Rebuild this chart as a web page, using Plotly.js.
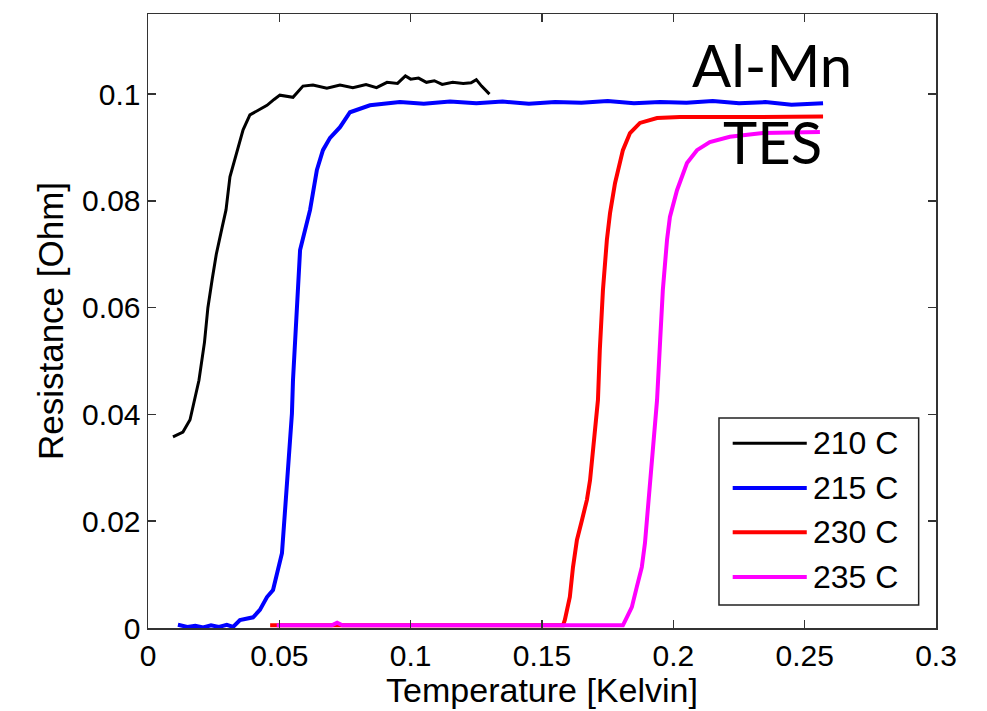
<!DOCTYPE html>
<html>
<head>
<meta charset="utf-8">
<script src="https://cdn.plot.ly/plotly-3.0.1.min.js"></script>
<style>html,body{margin:0;padding:0;background:#fff;}#chart{width:987px;height:711px;}</style>
</head>
<body>
<div id="chart"></div>
<script>
// Series names and colours
var seriesNames = ["210 C", "215 C", "230 C", "235 C"];
var seriesColors = ["#000000", "#0000ff", "#ff0000", "#ff00ff"];

// 210 C
var x210 = [0.0095,0.0133,0.016,0.0171,0.0187,0.0194,0.0215,0.0228,0.0245,0.026,0.0282,0.0297,0.0312,0.0339,0.0362,0.0388,0.0415,0.0453,0.048,0.0502,0.0552,0.059,0.0628,0.0681,0.0731,0.078,0.083,0.087,0.091,0.095,0.098,0.1,0.103,0.106,0.109,0.112,0.116,0.12,0.123,0.125,0.127,0.13];
var y210 = [0.0358,0.0367,0.039,0.0414,0.0446,0.0464,0.0535,0.06,0.0655,0.07,0.075,0.0783,0.0845,0.089,0.0933,0.0961,0.0968,0.0979,0.099,0.0998,0.0994,0.1015,0.1017,0.1011,0.1017,0.1012,0.1018,0.1012,0.1022,0.1020,0.1034,0.1028,0.1030,0.1022,0.1025,0.1018,0.1022,0.1020,0.1021,0.1027,0.1015,0.1000];

// 215 C
var x215 = [0.0114,0.015,0.018,0.021,0.024,0.027,0.03,0.0324,0.035,0.04,0.0426,0.0453,0.0476,0.0495,0.051,0.0521,0.0529,0.054,0.0548,0.0552,0.0567,0.0579,0.0617,0.0643,0.0666,0.0693,0.0731,0.0769,0.0845,0.0959,0.105,0.115,0.125,0.135,0.145,0.155,0.165,0.175,0.185,0.195,0.205,0.215,0.225,0.235,0.245,0.257];
var y215 = [0.0006,0.0002,0.0004,0.0001,0.0005,0.0002,0.0006,0.0002,0.0015,0.002,0.0034,0.0058,0.0071,0.0109,0.014,0.0215,0.0277,0.0339,0.0402,0.0464,0.0614,0.0708,0.0783,0.0858,0.0895,0.0918,0.0938,0.0966,0.0979,0.0985,0.0982,0.0986,0.0983,0.0986,0.0982,0.0985,0.0984,0.0987,0.0983,0.0985,0.0984,0.0987,0.0983,0.0985,0.0980,0.0983];

// 230 C
var x230 = [0.0465,0.1,0.158,0.1587,0.1606,0.1618,0.1633,0.1652,0.1671,0.1683,0.1694,0.1702,0.1713,0.172,0.1728,0.1732,0.1747,0.1759,0.1778,0.1808,0.1835,0.1873,0.1938,0.2025,0.23,0.257];
var y230 = [0.0005,0.0005,0.0005,0.0015,0.0058,0.0114,0.0165,0.0202,0.024,0.0277,0.0328,0.0376,0.0427,0.052,0.0614,0.0633,0.0727,0.0777,0.0833,0.0895,0.0927,0.0946,0.0955,0.0957,0.0957,0.0958];

// 235 C
var x235 = [0.049,0.07,0.072,0.074,0.1,0.15,0.1808,0.1823,0.1842,0.1861,0.188,0.1892,0.19,0.1911,0.1922,0.1934,0.1938,0.195,0.196,0.1976,0.1987,0.2014,0.2052,0.209,0.2139,0.2215,0.2341,0.2558];
var y235 = [0.0005,0.0005,0.001,0.0005,0.0005,0.0005,0.0005,0.002,0.0039,0.0077,0.0114,0.0159,0.0208,0.0271,0.0333,0.0395,0.0427,0.054,0.0633,0.0727,0.077,0.082,0.0871,0.0895,0.091,0.092,0.0927,0.0929];

// Ticks
var xTickVals = [0, 0.05, 0.1, 0.15, 0.2, 0.25, 0.3];
var xTickText = ["0", "0.05", "0.1", "0.15", "0.2", "0.25", "0.3"];
var yTickVals = [0, 0.02, 0.04, 0.06, 0.08, 0.1];
var yTickText = ["0", "0.02", "0.04", "0.06", "0.08", "0.1"];

var xs = [x210, x215, x230, x235];
var ys = [y210, y215, y230, y235];
var widths = [3, 4, 4, 4];

var traces = xs.map(function (xv, i) {
  return {
    x: xv, y: ys[i], type: "scatter", mode: "lines", name: seriesNames[i],
    line: {color: seriesColors[i], width: widths[i]}, showlegend: false
  };
});

var font = "'Liberation Sans', Arial, sans-serif";
var frameColor = "#333333";

// manual legend (MATLAB style)
var legBox = {x0: 0.7246, x1: 0.978, y0: 0.0375, y1: 0.342};
var rowY = [0.301, 0.228, 0.156, 0.083];
var shapes = [{
  type: "rect", xref: "paper", yref: "paper",
  x0: legBox.x0, x1: legBox.x1, y0: legBox.y0, y1: legBox.y1,
  line: {color: "#222", width: 1.5}, fillcolor: "#ffffff", layer: "above"
}];
var annotations = [];
seriesNames.forEach(function (n, i) {
  shapes.push({
    type: "line", xref: "paper", yref: "paper",
    x0: 0.742, x1: 0.836, y0: rowY[i], y1: rowY[i],
    line: {color: seriesColors[i], width: i === 0 ? 3 : 4}, layer: "above"
  });
  annotations.push({
    xref: "paper", yref: "paper", x: 0.841, y: rowY[i],
    xanchor: "left", yanchor: "middle", text: n, showarrow: false,
    font: {family: font, size: 32, color: "#000"}
  });
});
annotations.push({
  xref: "paper", yref: "paper", x: 0.792, y: 0.917, xanchor: "center", yanchor: "middle",
  text: "Al-Mn", showarrow: false, font: {family: "Lato, 'Open Sans', sans-serif", size: 58, color: "#000"}
});
annotations.push({
  xref: "paper", yref: "paper", x: 0.792, y: 0.792, xanchor: "center", yanchor: "middle",
  text: "TES", showarrow: false, font: {family: "Lato, 'Open Sans', sans-serif", size: 58, color: "#000"}
});

var layout = {
  width: 987, height: 711,
  margin: {l: 148, r: 51, t: 14, b: 83, pad: 0},
  paper_bgcolor: "#ffffff", plot_bgcolor: "#ffffff",
  showlegend: false,
  font: {family: font, color: "#000"},
  xaxis: {
    range: [0, 0.3], tickmode: "array", tickvals: xTickVals, ticktext: xTickText,
    ticks: "inside", ticklen: 8, tickwidth: 1.5, tickcolor: frameColor,
    showline: true, linecolor: frameColor, linewidth: 1.5, mirror: "ticks",
    showgrid: false, zeroline: false,
    tickfont: {family: font, size: 30, color: "#000"},
    title: {text: "Temperature [Kelvin]", font: {family: font, size: 34, color: "#000"}, standoff: 2}
  },
  yaxis: {
    range: [0, 0.115], tickmode: "array", tickvals: yTickVals, ticktext: yTickText,
    ticks: "inside", ticklen: 8, tickwidth: 1.5, tickcolor: frameColor,
    showline: true, linecolor: frameColor, linewidth: 1.5, mirror: "ticks",
    showgrid: false, zeroline: false,
    tickfont: {family: font, size: 30, color: "#000"},
    title: {text: "Resistance [Ohm]", font: {family: font, size: 35, color: "#000"}, standoff: 8}
  },
  shapes: shapes,
  annotations: annotations
};

Plotly.newPlot("chart", traces, layout, {staticPlot: true, displayModeBar: false});
</script>
</body>
</html>
